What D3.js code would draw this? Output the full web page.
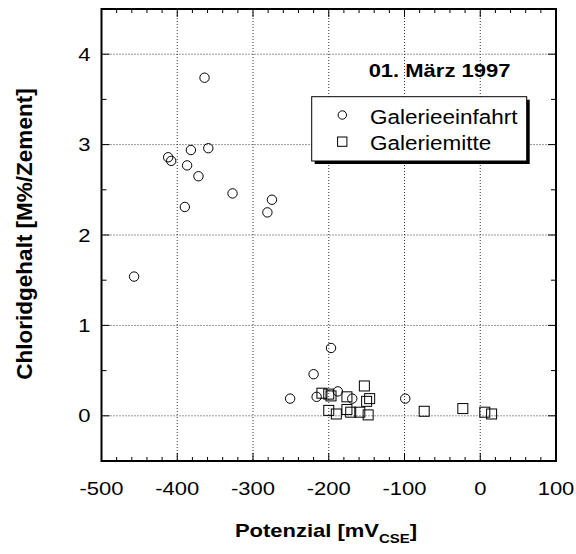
<!DOCTYPE html>
<html>
<head>
<meta charset="utf-8">
<script src="https://cdn.jsdelivr.net/npm/d3@7"></script>
<style>
  body { margin: 0; background: #fff; }
  text { font-family: "Liberation Sans", Arial, sans-serif; fill: #000; }
</style>
</head>
<body>
<div id="chart"></div>
<script>
// data
const einfahrtX = [-457, -412, -408, -382, -359, -387, -372, -327, -390, -275, -281, -364, -197, -220, -251, -216, -188, -169, -99]
const einfahrtY = [1.54, 2.86, 2.82, 2.94, 2.96, 2.77, 2.65, 2.46, 2.31, 2.39, 2.25, 3.74, 0.75, 0.46, 0.19, 0.21, 0.27, 0.19, 0.19]
const mitteX = [-153, -209, -200, -197, -176, -146, -150, -200, -190, -176, -171, -159, -148, -74, -23, 6, 15]
const mitteY = [0.33, 0.25, 0.24, 0.22, 0.21, 0.19, 0.16, 0.06, 0.02, 0.07, 0.04, 0.04, 0.01, 0.05, 0.08, 0.04, 0.02]
const xTicks = [-500, -400, -300, -200, -100, 0, 100]
const yTicks = [0, 1, 2, 3, 4]
const seriesNames = ["Galerieeinfahrt", "Galeriemitte"]
const title = "01. März 1997"

const W = 576, H = 554
const margin = {top: 9, right: 20, bottom: 93, left: 101.5}
const width = 556 - margin.left
const height = 461 - margin.top
const SY = 0.86   // text in the picture is a bit flattened

const x = d3.scaleLinear().domain([-500, 100]).range([0, width])
const y = d3.scaleLinear().domain([-0.5, 4.5]).range([height, 0])

const svg = d3.select("#chart").append("svg")
    .attr("width", W)
    .attr("height", H)

const g = svg.append("g")
    .attr("transform", "translate(" + margin.left + "," + margin.top + ")")

const flatText = (parent, px, py, str, size, anchor, bold) => {
  return parent.append("text")
    .attr("transform", "translate(" + px + "," + py + ") scale(1," + SY + ")")
    .attr("text-anchor", anchor)
    .attr("font-size", size)
    .attr("font-weight", bold ? "bold" : "normal")
    .text(str)
}

// grid
g.selectAll(".vgrid")
  .data(xTicks.filter(d => d > -500 && d < 100))
  .enter().append("line")
    .attr("x1", d => x(d)).attr("x2", d => x(d))
    .attr("y1", 0).attr("y2", height)
    .attr("stroke", "#333").attr("stroke-dasharray", "1,2")

g.selectAll(".hgrid")
  .data(yTicks)
  .enter().append("line")
    .attr("x1", 0).attr("x2", width)
    .attr("y1", d => y(d)).attr("y2", d => y(d))
    .attr("stroke", "#333").attr("stroke-dasharray", "1,2")

// inward ticks on all four sides
const xMinor = d3.range(-500, 101, 20)
xMinor.forEach(v => {
  const len = v % 100 === 0 ? 8 : 4
  g.append("line").attr("x1", x(v)).attr("x2", x(v)).attr("y1", height).attr("y2", height - len).attr("stroke", "#000")
  g.append("line").attr("x1", x(v)).attr("x2", x(v)).attr("y1", 0).attr("y2", len).attr("stroke", "#000")
})
const yMinor = d3.range(-0.5, 4.51, 0.5)
yMinor.forEach(v => {
  const len = Math.abs(v - Math.round(v)) < 0.01 ? 8 : 5
  g.append("line").attr("x1", 0).attr("x2", len).attr("y1", y(v)).attr("y2", y(v)).attr("stroke", "#000")
  g.append("line").attr("x1", width).attr("x2", width - len).attr("y1", y(v)).attr("y2", y(v)).attr("stroke", "#000")
})

g.append("rect")
  .attr("width", width).attr("height", height)
  .attr("fill", "none").attr("stroke", "#000").attr("stroke-width", 2)

// tick labels
xTicks.forEach(v => flatText(g, x(v), height + 34, v, 22, "middle"))
yTicks.forEach(v => flatText(g, -11, y(v) + 6.5, v, 22, "end"))

// points
const circles = einfahrtX.map((d, i) => ({x: d, y: einfahrtY[i]}))
const squares = mitteX.map((d, i) => ({x: d, y: mitteY[i]}))

g.selectAll(".circ")
  .data(circles)
  .enter().append("circle")
    .attr("cx", d => x(d.x)).attr("cy", d => y(d.y)).attr("r", 4.7)
    .attr("fill", "none").attr("stroke", "#000").attr("stroke-width", 1)

g.selectAll(".sq")
  .data(squares)
  .enter().append("rect")
    .attr("x", d => x(d.x) - 5).attr("y", d => y(d.y) - 5)
    .attr("width", 10).attr("height", 10)
    .attr("fill", "none").attr("stroke", "#000").attr("stroke-width", 1)

// title + legend
flatText(svg, 439.5, 77, title, 22, "middle", true)

svg.append("rect").attr("x", 314.7).attr("y", 99.7).attr("width", 215).attr("height", 64.3).attr("fill", "#000")
svg.append("rect").attr("x", 311.7).attr("y", 96.7).attr("width", 215).attr("height", 64.3)
  .attr("fill", "#fff").attr("stroke", "#000").attr("stroke-width", 1)

svg.append("circle").attr("cx", 342.3).attr("cy", 115).attr("r", 4.2)
  .attr("fill", "none").attr("stroke", "#000")
svg.append("rect").attr("x", 337.6).attr("y", 137).attr("width", 9.3).attr("height", 9.3)
  .attr("fill", "none").attr("stroke", "#000")
flatText(svg, 370, 124, seriesNames[0], 22.5, "start")
flatText(svg, 370, 150, seriesNames[1], 22.5, "start")

// axis titles
const xl = svg.append("text")
  .attr("transform", "translate(326,537) scale(1," + SY + ")")
  .attr("text-anchor", "middle")
  .attr("font-size", 22)
  .attr("font-weight", "bold")
xl.append("tspan").text("Potenzial [mV")
xl.append("tspan").attr("font-size", 15).attr("dy", 7).text("CSE")
xl.append("tspan").attr("dy", -7).text("]")

svg.append("text")
  .attr("transform", "translate(31.5,234) rotate(-90)")
  .attr("text-anchor", "middle")
  .attr("font-size", 22.5)
  .attr("font-weight", "bold")
  .text("Chloridgehalt [M%/Zement]")
</script>
</body>
</html>
